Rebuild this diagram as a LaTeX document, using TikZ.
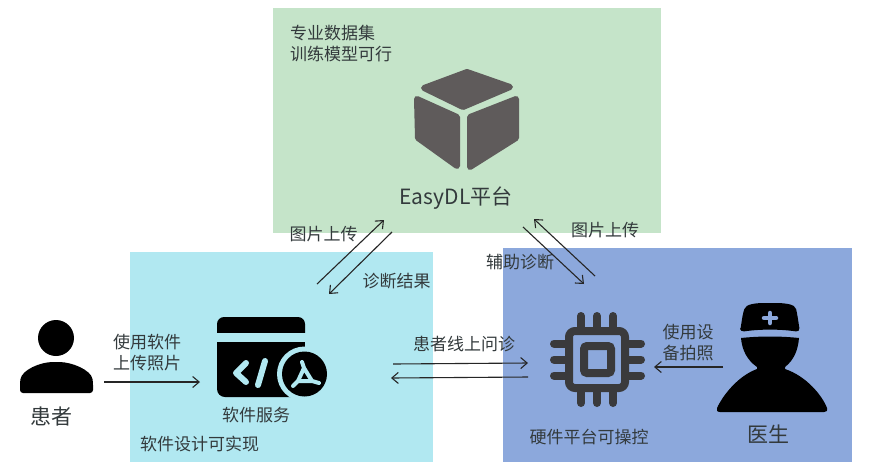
\documentclass[tikz,border=0pt]{standalone}
\usepackage{fontspec}
\setmainfont{Noto Sans CJK SC}
\usetikzlibrary{arrows.meta}
\definecolor{greenpanel}{HTML}{C5E4C9}
\definecolor{cyanpanel}{HTML}{B1E8F1}
\definecolor{bluepanel}{HTML}{8CA8DC}
\definecolor{txt}{HTML}{333A3C}
\definecolor{cubec}{HTML}{5F5B5B}
\definecolor{chipc}{HTML}{3A3A3C}
\tikzset{
  lbl/.style={text=txt,font=\fontsize{17}{21}\selectfont,inner sep=0pt,align=center},
  biglbl/.style={text=txt,font=\fontsize{21}{25}\selectfont,inner sep=0pt},
  conn/.style={draw=black!85,line width=1.1pt,-{Straight Barb[length=6.5pt,width=11pt]}},
  cubeface/.style={fill=cubec,draw=cubec,line width=6pt,line join=round},
  pin/.style={draw=chipc,line width=8pt,line cap=round}
}
\begin{document}
\begin{tikzpicture}[x=1pt,y=-1pt]
\useasboundingbox (0,0) rectangle (880,472);
\fill[white] (0,0) rectangle (880,472);
% panels
\fill[greenpanel] (273,8) rectangle (661,233);
\fill[cyanpanel] (130,252) rectangle (433,462);
\fill[bluepanel] (503,248) rectangle (852,462);
% cube
\filldraw[cubeface] (467,72) -- (510,87) -- (463,107) -- (424,88) -- cycle;
\filldraw[cubeface] (417,99) -- (457,117) -- (457,166) -- (418,138) -- cycle;
\filldraw[cubeface] (470,117) -- (516,99) -- (516,138) -- (470,167) -- cycle;
% patient icon
\fill[black] (56,338) circle (18);
\fill[black,rounded corners=3pt] (20,393) -- (20,382) .. controls (22,370) and (40,362) .. (56,362) .. controls (72,362) and (91,370) .. (93,382) -- (93,393) -- cycle;
% software icon
\fill[black,rounded corners=7pt] (217,345) -- (217,317) -- (305,317) -- (305,345) -- cycle;
\fill[cyanpanel] (210,333) rectangle (312,342);
\fill[black,rounded corners=8pt] (217,342) -- (217,397) -- (305,397) -- (305,342) -- cycle;
\fill[black] (217,342) rectangle (305,352);
\fill[cyanpanel] (304.5,374) circle (27.5);
\fill[black] (304.5,374) circle (22.5);
\draw[cyanpanel,line width=6pt,line cap=round,line join=round] (246,363) -- (236,373) -- (246,382);
\draw[cyanpanel,line width=6pt,line cap=round] (265,361) -- (258,385);
\draw[cyanpanel,line width=4pt,line join=round,line cap=round] (302,362) -- (304,368) -- (312,381) -- (319,383) (312,381) -- (298,381) -- (293,386) (298,381) -- (304,368);
% chip icon
\draw[chipc,line width=8pt,rounded corners=6pt] (569,331) rectangle (625,388);
\draw[chipc,line width=8pt,rounded corners=3pt] (584,346) rectangle (611,373);
\foreach \d in {-16,0,16} {
  \draw[pin] (597+\d,316) -- (597+\d,329);
  \draw[pin] (597+\d,391) -- (597+\d,403);
  \draw[pin] (554,359.5+\d) -- (567,359.5+\d);
  \draw[pin] (627,359.5+\d) -- (641,359.5+\d);
}
% doctor icon
\fill[black,rounded corners=4pt] (740,332) -- (743,313) .. controls (746,304) and (755,303) .. (770,303) .. controls (785,303) and (795,304) .. (797,313) -- (800,332) .. controls (780,329) and (760,329) .. (740,332) -- cycle;
\fill[black] (741,338) .. controls (760,336) and (780,336) .. (799,338) .. controls (798,350) and (794,360) .. (785,367) -- (785,369) .. controls (806,376) and (822,395) .. (827,408) .. controls (828,411) and (826,412) .. (824,412) -- (720,412) .. controls (717,412) and (716,410) .. (717,408) .. controls (723,395) and (738,376) .. (757,369) -- (757,367) .. controls (747,360) and (742,350) .. (741,338) -- cycle;
\draw[bluepanel,line width=4.5pt,line cap=round] (764,318) -- (776,318) (770,313) -- (770,323);
% labels
\node[lbl,anchor=west,text width=110pt,align=left] (dataset) at (290,43.5) {专业数据集\\训练模型可行};
\node[text=txt,font=\fontsize{21}{25}\selectfont,inner sep=0pt] (easydl) at (456,198) {EasyDL平台};
\node[lbl] (upl) at (323.5,234) {图片上传};
\node[lbl] (res) at (396.5,281) {诊断结果};
\node[lbl] (upr) at (605,230) {图片上传};
\node[lbl] (aux) at (520,262) {辅助诊断};
\node[lbl] (online) at (464,344) {患者线上问诊};
\node[lbl] (useapp) at (147,353) {使用软件\\上传照片};
\node[biglbl] (patient) at (51,417) {患者};
\node[lbl] (softsvc) at (256,415) {软件服务};
\node[lbl] (softok) at (199.5,444) {软件设计可实现};
\node[lbl] (usedev) at (688,343) {使用设\\备拍照};
\node[lbl] (hwok) at (589,437) {硬件平台可操控};
\node[biglbl] (doctor) at (768,434) {医生};
% connector end points
\coordinate (a1) at (104,382); \coordinate (a2) at (200,382);
\coordinate (b1) at (317,284); \coordinate (b2) at (384,220);
\coordinate (c1) at (392,232); \coordinate (c2) at (329,294);
\coordinate (d1) at (523,227); \coordinate (d2) at (584,284);
\coordinate (e1) at (595,276); \coordinate (e2) at (534,219);
\coordinate (f1) at (393,364); \coordinate (f2) at (528,363);
\coordinate (g1) at (528,377); \coordinate (g2) at (391,378);
\coordinate (h1) at (723,367); \coordinate (h2) at (654,367);
\draw[conn] (a1) -- (a2);
\draw[conn] (b1) -- (b2);
\draw[conn] (c1) -- (c2);
\draw[conn] (d1) -- (d2);
\draw[conn] (e1) -- (e2);
\draw[conn] (f1) -- (f2);
\draw[conn] (g1) -- (g2);
\draw[conn] (h1) -- (h2);
\end{tikzpicture}
\end{document}
